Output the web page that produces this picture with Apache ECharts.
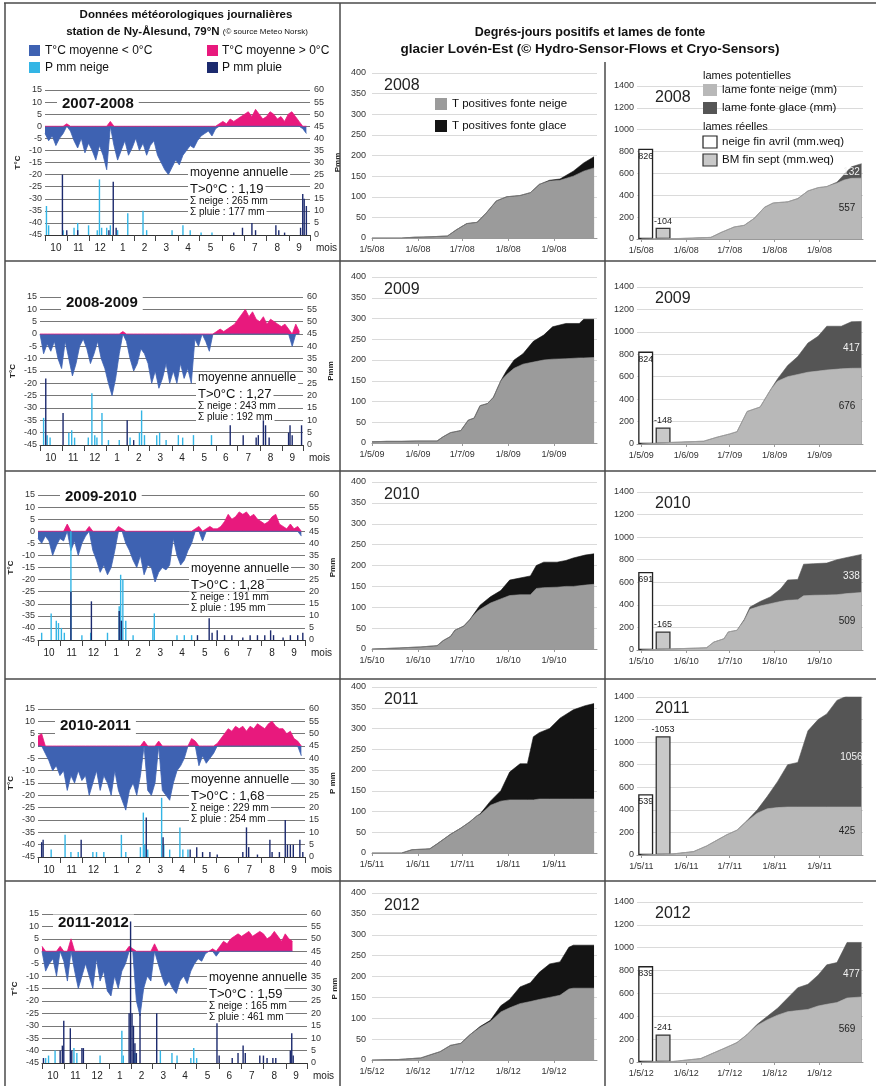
<!DOCTYPE html>
<html><head><meta charset="utf-8">
<script src="https://cdn.jsdelivr.net/npm/echarts@6/dist/echarts.min.js"></script>
<style>html,body{margin:0;padding:0;background:#fff}#c{width:876px;height:1086px}</style>
</head><body><div id="c"></div>
<script>
// ---------------- DATA ----------------
const seasons = ['2007-2008','2008-2009','2009-2010','2010-2011','2011-2012'];
const meltYears = ['2008','2009','2010','2011','2012'];
const moisLabels = ['10','11','12','1','2','3','4','5','6','7','8','9'];
const monthStarts = [0,31,61,92,123,152,183,213,244,274,305,336,365];
const monthMids = [15,46,76,107,137,167,197,228,258,289,320,350];
const tMoyPos = ['1,19','1,27','1,28','1,68','1,59'];
const sumNeige = [265,243,191,229,165];
const sumPluie = [177,192,195,254,461];
const pAxisNames = ['Pmm','Pmm','Pmm','P mm','P mm'];

// daily mean temperature sampled every 5 days from 1 Oct (day 0)
const tempDays = [0,5,10,15,20,25,30,35,40,45,50,55,60,65,70,75,80,85,90,95,100,105,110,115,120,125,130,135,140,145,150,155,160,165,170,175,180,185,190,195,200,205,210,215,220,225,230,235,240,245,250,255,260,265,270,275,280,285,290,295,300,305,310,315,320,325,330,335,340,345,350,355,360];
const t0708 = [-3,-6,-4,-8,-5,-3,1, -2,-6,-9,-5,-11,-7, -10,-14,-8,-12,-18,2, -8,-14,-10,-6,-12,-9, -5,-10,-7,-12,-8,-6, -12,-15,-18,-20,-17,-14, -16,-12,-10,-8,-9,-6, -4,-3,-2,-4,-1,1, 2,1,3,2,3,4, 5,6,4,7,5,3, 4,6,5,3,4,2, 5,6,4,2,-1,-3];
const t0809 = [0,-8,-4,-7,-3,-10,-14, -3,-10,-17,-12,-5,-2, -6,-12,-8,-3,-10,-14, -20,-25,-18,-8,1,-3, -10,-15,-12,-6,-8,-12, -20,-15,-22,-18,-12,-20, -15,-20,-12,-18,-14,-20, -2,-5,0,-3,-7,0, 1,2,1,2,3,4, 6,8,10,7,9,6, 5,7,4,6,5,4, 3,4,2,-5,4,1];
const t0910 = [-3,-5,-2,-4,-10,-6,-3, -4,3,-8,-4,-10,-5, -2,2,-8,-12,-17,-14, -18,-15,-8,2,1,-5, -8,-12,-15,-10,-18,-14, -15,-21,-17,-15,-16,-14, -3,-10,-14,-12,-8,-5, 1,2,-4,1,2,1, 1,2,4,7,5,6, 8,7,8,6,7,5, 4,3,4,6,7,3, 2,1,3,1,2,-2];
const t1011 = [4,5,-3,-6,-10,-8,-12, -10,-18,-12,-15,-10,-14, -12,-20,-15,-10,-18,-12, -15,-20,-10,-18,-22,-26, -18,-15,-20,-12,2,-18, -20,-15,2,-18,-20,-22, -15,-10,-8,-5,0,3, 2,-8,-4,-7,-5,-3, 1,3,5,7,6,8, 7,8,6,8,7,9, 8,7,9,10,8,7, 7,5,6,3,2,-4];
const t1112 = [2,-8,-5,-3,-10,2,-4, -12,5,-8,-15,-10,-5, -10,-15,-3,-12,-8,-16, -18,-10,-15,-8,-5,2, 1,-20,-26,-15,-10,-12, 3,-5,-10,-14,-12,-15, -17,-12,-10,-13,-8,-5, -3,-4,-1,0,1,-2, 2,4,3,5,6,7, 6,7,8,6,7,8, 7,5,6,8,6,4, 7,5,4,null,null,null];

// precipitation events [day from 1 Oct, mm]
const neige0708 = [[2,12],[5,4],[25,2],[40,3],[45,5],[60,4],[72,2],[75,23],[78,3],[85,3],[90,4],[100,2],[114,9],[135,10],[140,2],[175,2],[190,4],[200,2],[215,1],[230,1]];
const pluie0708 = [[24,25],[30,2],[45,2],[88,2],[94,22],[98,3],[260,1],[272,3],[285,5],[290,2],[318,4],[322,2],[330,1],[352,3],[355,17],[357,15],[360,12]];
const neige0809 = [[5,11],[10,4],[14,3],[40,5],[44,6],[48,3],[67,3],[72,21],[76,4],[79,3],[86,13],[95,2],[110,2],[125,3],[138,5],[141,14],[145,4],[162,4],[166,5],[175,2],[192,4],[198,3],[213,4],[238,4]];
const pluie0809 = [[8,27],[32,13],[121,10],[130,2],[264,8],[282,4],[300,3],[303,4],[310,10],[313,8],[318,3],[345,5],[347,8],[350,4],[363,8]];
const neige0910 = [[5,3],[18,11],[25,8],[28,7],[32,5],[36,3],[45,45],[60,2],[72,3],[95,3],[111,14],[113,27],[116,25],[120,8],[130,2],[157,5],[159,11],[190,2],[200,2],[210,2]];
const pluie0910 = [[45,20],[73,16],[111,12],[114,8],[218,2],[234,9],[238,3],[245,4],[255,2],[265,2],[280,1],[290,2],[300,2],[310,2],[318,4],[322,2],[335,1],[345,2],[355,2],[362,3]];
const neige1011 = [[18,3],[37,9],[45,2],[55,2],[75,2],[80,2],[90,2],[114,9],[120,2],[140,4],[144,18],[146,5],[150,3],[169,24],[172,5],[180,3],[194,12],[198,3],[205,3]];
const pluie1011 = [[5,6],[7,7],[59,7],[148,16],[171,8],[208,3],[217,4],[225,2],[235,2],[245,1],[280,2],[285,12],[288,4],[300,1],[317,7],[320,2],[330,2],[338,15],[341,5],[345,5],[349,5],[358,7],[362,2]];
const neige1112 = [[5,2],[9,3],[18,5],[44,6],[48,4],[80,3],[110,13],[112,3],[128,4],[163,5],[179,4],[186,3],[205,2],[209,6],[213,2]];
const pluie1112 = [[2,2],[25,5],[28,7],[30,17],[39,14],[41,5],[55,6],[57,6],[120,20],[122,57],[124,20],[126,15],[128,8],[130,4],[135,20],[158,20],[241,16],[244,3],[262,2],[270,4],[277,7],[280,4],[300,3],[305,3],[310,2],[318,2],[322,2],[342,5],[344,12],[346,3]];

// cumulative positive degree-days (day from 1 May)
const djDays2008 = [0,10,20,29,40,51,57,64,71,77,84,91,100,107,113,120,127,136,143,150];
const djNeige2008 = [0,0,0,2,3,5,20,35,38,60,90,100,103,110,130,138,140,150,162,170];
const djGlace2008 = [0,0,0,0,0,0,0,0,0,0,0,0,0,0,0,2,3,12,20,27];
const djDays2009 = [0,10,20,30,44,48,53,60,65,69,73,78,82,87,91,96,102,109,116,122,131,140,143,150];
const djNeige2009 = [3,4,4,5,5,15,25,30,55,60,90,95,110,150,165,180,190,195,200,202,203,205,205,206];
const djGlace2009 = [0,0,0,0,0,0,0,0,0,0,0,0,0,0,10,20,25,50,60,78,85,83,93,92];
const djDays2010 = [0,15,33,44,48,53,56,62,66,71,73,80,87,93,100,107,111,116,125,131,136,144,150];
const djNeige2010 = [0,2,5,8,20,30,45,55,70,90,95,110,120,128,130,130,145,147,148,150,150,153,155];
const djGlace2010 = [0,0,0,0,0,0,0,0,0,5,10,15,20,37,40,45,55,61,60,62,68,72,73];
const djDays2011 = [0,20,27,39,44,53,60,66,71,73,80,87,93,100,105,109,113,120,127,136,144,150];
const djNeige2011 = [0,0,8,10,22,45,60,75,90,92,115,125,128,128,128,128,130,130,130,130,130,130];
const djGlace2011 = [0,0,0,0,0,0,0,0,0,2,10,25,67,87,87,152,160,170,195,215,225,230];
const djDays2012 = [0,17,33,39,46,53,60,66,73,80,87,93,100,107,113,120,127,133,136,150];
const djNeige2012 = [0,1,5,12,20,35,40,60,78,92,115,125,135,140,145,150,155,170,172,172];
const djGlace2012 = [0,0,0,0,0,0,0,0,2,3,15,20,40,45,65,80,80,100,103,103];

// cumulative potential melt (mm), day from 1 May
const lmDays2008 = [0,27,48,55,64,71,78,85,91,101,108,115,122,128,135,140,145,152];
const lmNeige2008 = [0,5,15,60,110,125,190,290,330,340,370,440,470,480,510,540,555,557];
const lmGlace2008 = [0,0,0,0,0,0,0,0,0,0,0,0,0,0,10,50,105,132];
const lmDays2009 = [0,22,43,52,61,66,73,82,89,94,101,108,115,122,128,138,145,152];
const lmNeige2009 = [0,15,25,60,90,110,290,330,480,560,600,620,640,650,660,670,675,676];
const lmGlace2009 = [0,0,0,0,0,0,0,0,0,20,100,160,260,310,390,380,415,417];
const lmDays2010 = [0,22,45,50,57,60,66,71,75,82,89,96,101,108,112,119,128,135,142,152];
const lmNeige2010 = [0,10,20,70,100,160,175,260,360,390,410,430,440,445,480,485,487,490,500,509];
const lmGlace2010 = [0,0,0,0,0,0,0,10,20,40,60,110,180,180,280,280,283,310,320,338];
const lmDays2011 = [0,22,36,45,52,59,66,73,80,87,94,101,108,115,122,128,135,142,152];
const lmNeige2011 = [0,10,30,80,130,180,220,300,370,410,420,425,425,425,425,425,425,425,425];
const lmGlace2011 = [0,0,0,0,0,0,0,5,30,110,230,375,395,675,775,825,945,985,1056];
const lmDays2012 = [0,22,41,50,59,66,73,80,87,94,101,108,115,122,128,135,142,152];
const lmNeige2012 = [0,5,30,80,130,170,240,320,370,410,440,450,460,490,505,520,560,569];
const lmGlace2012 = [0,0,0,0,0,0,0,10,30,60,120,200,220,270,345,350,486,477];

// measured
const neigeFinAvril = [826,824,691,539,839];
const bmFinSept = [-104,-148,-165,-1053,-241];
const dateTicks = [0,31,61,92,123];

// ---------------- LAYOUT / STYLE ----------------
const temps = [t0708,t0809,t0910,t1011,t1112];
const pNeige = [neige0708,neige0809,neige0910,neige1011,neige1112];
const pPluie = [pluie0708,pluie0809,pluie0910,pluie1011,pluie1112];
const djD = [djDays2008,djDays2009,djDays2010,djDays2011,djDays2012];
const djN = [djNeige2008,djNeige2009,djNeige2010,djNeige2011,djNeige2012];
const djG = [djGlace2008,djGlace2009,djGlace2010,djGlace2011,djGlace2012];
const lmD = [lmDays2008,lmDays2009,lmDays2010,lmDays2011,lmDays2012];
const lmN = [lmNeige2008,lmNeige2009,lmNeige2010,lmNeige2011,lmNeige2012];
const lmG = [lmGlace2008,lmGlace2009,lmGlace2010,lmGlace2011,lmGlace2012];

const FONT = '"Liberation Sans", Arial, sans-serif';
const BLUE='#3e62b2', PINK='#e8197d', CYAN='#33b5e5', NAVY='#1c2a6e';
const MID_N='#9b9b9b', MID_G='#141414', R_N='#b8b8b8', R_G='#555555';

const leftBox = [
 {l:45,t:90,r:310,b:235},
 {l:40,t:297,r:303,b:445},
 {l:38,t:495,r:305,b:640},
 {l:38,t:709,r:305,b:857},
 {l:42,t:914,r:307,b:1063}
];
const midBox = [{t:73,b:238},{t:277,b:443},{t:482,b:649},{t:687,b:853},{t:893,b:1060}];
const rightBox = [{t:86,b:239},{t:287,b:444},{t:492,b:650},{t:697,b:855},{t:902,b:1062}];
const yearLabelPos = [[57,104],[61,303],[60,497],[55,726],[53,923]];
const annotPos = [[188,173],[196,378],[189,569],[189,780],[207,978]];

const grid=[], xAxis=[], yAxis=[], series=[], graphic=[];

function T(x,y,text,o){
  o=o||{};
  return {type:'text', x, y, z:o.z!=null?o.z:1, style:Object.assign({text, fill:o.fill||'#111',
    fontFamily:FONT, fontSize:o.size||12, fontWeight:o.bold?'bold':'normal',
    align:o.align||'left', verticalAlign:'middle'}, o.bg?{backgroundColor:'#fff', padding:o.pad||[1,3]}:{})};
}
function R(x,y,w,h,fill,stroke){
  return {type:'rect', z:5, shape:{x,y,width:w,height:h}, style:{fill, stroke:stroke||null, lineWidth:stroke?1.2:0}};
}
function Lh(x1,y1,x2,y2){
  return {type:'line', z:10, shape:{x1,y1,x2,y2}, style:{stroke:'#4a4a4a', lineWidth:1.5}};
}
const plain = v => String(v);

for (let r=0;r<5;r++){
  const L=leftBox[r], M=midBox[r], Rt=rightBox[r];
  const gL=3*r, gM=3*r+1, gR=3*r+2;
  const yy = meltYears[r].slice(2);
  grid.push({left:L.l, top:L.t, width:L.r-L.l, height:L.b-L.t});
  grid.push({left:372, top:M.t, width:225, height:M.b-M.t});
  grid.push({left:637, top:Rt.t, width:226, height:Rt.b-Rt.t});

  // x axes
  xAxis.push({gridIndex:gL, type:'value', min:0, max:365,
    axisLine:{onZero:false, lineStyle:{color:'#333', width:1}},
    axisTick:{customValues:monthStarts, length:6, lineStyle:{color:'#444'}},
    axisLabel:{customValues:monthMids, formatter:v=>moisLabels[monthMids.indexOf(v)], fontSize:10, color:'#222', margin:8, fontFamily:FONT},
    splitLine:{show:false}});
  xAxis.push({gridIndex:gM, type:'value', min:0, max:152,
    axisLine:{onZero:false, lineStyle:{color:'#999'}},
    axisTick:{customValues:dateTicks, length:3, lineStyle:{color:'#999'}},
    axisLabel:{customValues:dateTicks, formatter:v=>'1/'+(5+dateTicks.indexOf(v))+'/'+yy, fontSize:9, color:'#333', margin:7, fontFamily:FONT},
    splitLine:{show:false}});
  xAxis.push({gridIndex:gR, type:'value', min:-3, max:153,
    axisLine:{onZero:false, lineStyle:{color:'#999'}},
    axisTick:{customValues:dateTicks, length:3, lineStyle:{color:'#999'}},
    axisLabel:{customValues:dateTicks, formatter:v=>'1/'+(5+dateTicks.indexOf(v))+'/'+yy, fontSize:9, color:'#333', margin:7, fontFamily:FONT},
    splitLine:{show:false}});

  // y axes
  yAxis.push({gridIndex:gL, type:'value', min:-45, max:15, interval:5, position:'left',
    axisLine:{show:false}, axisTick:{show:false},
    axisLabel:{fontSize:9, color:'#333', margin:3, fontFamily:FONT, formatter:plain},
    splitLine:{lineStyle:{color:'#555', width:0.8}},
    name:'T°C', nameLocation:'middle', nameGap:23, nameRotate:90,
    nameTextStyle:{fontSize:8, fontWeight:'bold', color:'#222', fontFamily:FONT}});
  yAxis.push({gridIndex:gL, type:'value', min:0, max:60, interval:5, position:'right',
    axisLine:{show:false}, axisTick:{show:false}, splitLine:{show:false},
    axisLabel:{fontSize:9, color:'#333', margin:4, fontFamily:FONT, formatter:plain},
    name:pAxisNames[r], nameLocation:'middle', nameGap:24, nameRotate:90,
    nameTextStyle:{fontSize:8, fontWeight:'bold', color:'#222', fontFamily:FONT}});
  yAxis.push({gridIndex:gM, type:'value', min:0, max:400, interval:50,
    axisLine:{show:false}, axisTick:{show:false},
    axisLabel:{fontSize:9, color:'#333', margin:6, fontFamily:FONT, formatter:plain},
    splitLine:{lineStyle:{color:'#dadada'}}});
  yAxis.push({gridIndex:gR, type:'value', min:0, max:1400, interval:200,
    axisLine:{show:false}, axisTick:{show:false},
    axisLabel:{fontSize:9, color:'#333', margin:3, fontFamily:FONT, formatter:plain},
    splitLine:{lineStyle:{color:'#dadada'}}});

  // temperature, split at 0 °C
  series.push({type:'line', name:'T°C moyenne < 0°C', xAxisIndex:gL, yAxisIndex:4*r,
    data:tempDays.map((d,i)=>[d, temps[r][i]==null?null:Math.min(temps[r][i],0)]), symbol:'none', silent:true,
    lineStyle:{width:0.8, color:BLUE}, areaStyle:{origin:0, color:BLUE, opacity:1}, z:3});
  series.push({type:'line', name:'T°C moyenne > 0°C', xAxisIndex:gL, yAxisIndex:4*r,
    data:tempDays.map((d,i)=>[d, temps[r][i]==null?null:Math.max(temps[r][i],0)]), symbol:'none', silent:true,
    lineStyle:{width:0.8, color:PINK}, areaStyle:{origin:0, color:PINK, opacity:1}, z:3});
  // precipitation
  series.push({type:'bar', name:'P mm neige', xAxisIndex:gL, yAxisIndex:4*r+1, data:pNeige[r],
    barWidth:1.4, barGap:'-100%', itemStyle:{color:CYAN}, silent:true, z:4});
  series.push({type:'bar', name:'P mm pluie', xAxisIndex:gL, yAxisIndex:4*r+1, data:pPluie[r],
    barWidth:1.4, barGap:'-100%', itemStyle:{color:NAVY}, silent:true, z:5});

  // degree-days (glace stacked on neige)
  series.push({type:'line', name:'T positives fonte glace', xAxisIndex:gM, yAxisIndex:4*r+2,
    data:djD[r].map((d,i)=>[d, djN[r][i]+djG[r][i]]), symbol:'none', silent:true,
    lineStyle:{width:0.6, color:MID_G}, areaStyle:{color:MID_G, opacity:1}});
  series.push({type:'line', name:'T positives fonte neige', xAxisIndex:gM, yAxisIndex:4*r+2,
    data:djD[r].map((d,i)=>[d, djN[r][i]]), symbol:'none', silent:true,
    lineStyle:{width:0.6, color:MID_N}, areaStyle:{color:MID_N, opacity:1}});

  // potential melt
  const nLast = lmN[r][lmN[r].length-1], gLast = lmG[r][lmG[r].length-1];
  series.push({type:'line', name:'lame fonte glace (mm)', xAxisIndex:gR, yAxisIndex:4*r+3,
    data:lmD[r].map((d,i)=>[d, lmN[r][i]+lmG[r][i]]), symbol:'none', silent:true,
    lineStyle:{width:0.6, color:R_G}, areaStyle:{color:R_G, opacity:1},
    markPoint:{symbol:'rect', symbolSize:1, itemStyle:{color:'rgba(0,0,0,0)'}, silent:true,
      label:{show:true, position:'inside', color:'#f2f2f2', fontSize:10, fontFamily:FONT, formatter:p=>p.value},
      data:[{coord:[145, nLast+gLast*0.42], value:gLast}]}});
  series.push({type:'line', name:'lame fonte neige (mm)', xAxisIndex:gR, yAxisIndex:4*r+3,
    data:lmD[r].map((d,i)=>[d, lmN[r][i]]), symbol:'none', silent:true,
    lineStyle:{width:0.6, color:R_N}, areaStyle:{color:R_N, opacity:1},
    markPoint:{symbol:'rect', symbolSize:1, itemStyle:{color:'rgba(0,0,0,0)'}, silent:true,
      label:{show:true, position:'inside', color:'#222', fontSize:10, fontFamily:FONT, formatter:p=>p.value},
      data:[{coord:[142, nLast*0.5], value:nLast}]}});
  series.push({type:'bar', name:'neige fin avril (mm.weq)', xAxisIndex:gR, yAxisIndex:4*r+3,
    data:[[3, neigeFinAvril[r]]], barWidth:15, barGap:'-100%', silent:true,
    itemStyle:{color:'#ffffff', borderColor:'#222', borderWidth:1.3},
    label:{show:true, position:'insideTop', distance:3, fontSize:9, color:'#222', fontFamily:FONT,
      formatter:p=>p.value[1]}});
  series.push({type:'bar', name:'BM fin sept (mm.weq)', xAxisIndex:gR, yAxisIndex:4*r+3,
    data:[[15, Math.abs(bmFinSept[r])]], barWidth:15, barGap:'-100%', silent:true,
    itemStyle:{color:'#c9c9c9', borderColor:'#333', borderWidth:1.3},
    label:{show:true, position:'top', distance:2, fontSize:9, color:'#222', fontFamily:FONT,
      formatter:()=>String(bmFinSept[r])}});

  // texts in panels
  graphic.push(T(yearLabelPos[r][0], yearLabelPos[r][1], seasons[r], {size:15, bold:true, bg:true, pad:[1,5]}));
  const a = annotPos[r];
  graphic.push(T(a[0], a[1], 'moyenne annuelle', {size:12, bg:true, pad:[0,2]}));
  graphic.push(T(a[0], a[1]+16, 'T>0°C : '+tMoyPos[r], {size:13, bg:true, pad:[0,2]}));
  graphic.push(T(a[0], a[1]+28, 'Σ neige : '+sumNeige[r]+' mm', {size:10, bg:true, pad:[0,2]}));
  graphic.push(T(a[0], a[1]+39.5, 'Σ pluie : '+sumPluie[r]+' mm', {size:10, bg:true, pad:[0,2]}));
  graphic.push(T(L.r+6, L.b+13, 'mois', {size:10, fill:'#222'}));
  graphic.push(T(384, M.t+13, meltYears[r], {size:16, fill:'#222'}));
  graphic.push(T(655, Rt.t+12, meltYears[r], {size:16, fill:'#222'}));
}

// frame
[ Lh(4,3,876,3), Lh(5,3,5,1086), Lh(340,3,340,1086), Lh(605,62,605,1086),
  Lh(5,261,876,261), Lh(5,471,876,471), Lh(5,679,876,679), Lh(5,881,876,881)
].forEach(g=>graphic.push(g));

// headers
graphic.push(T(186,15,'Données météorologiques journalières',{size:11.5,bold:true,align:'center',z:6}));
graphic.push({type:'text', x:187, y:32, z:6, style:{text:'{b|station de Ny-Ålesund, 79°N }{s|(© source Meteo Norsk)}',
  align:'center', verticalAlign:'middle', fill:'#111', fontFamily:FONT,
  rich:{b:{fontSize:11.5, fontWeight:'bold', fontFamily:FONT}, s:{fontSize:8, fontFamily:FONT}}}});
graphic.push(R(29,45,11,11,BLUE)); graphic.push(T(45,50.5,'T°C moyenne < 0°C',{size:12,z:6}));
graphic.push(R(207,45,11,11,PINK)); graphic.push(T(222,50.5,'T°C moyenne > 0°C',{size:12,z:6}));
graphic.push(R(29,62,11,11,CYAN)); graphic.push(T(45,67.5,'P mm neige',{size:12,z:6}));
graphic.push(R(207,62,11,11,NAVY)); graphic.push(T(222,67.5,'P mm pluie',{size:12,z:6}));

graphic.push(T(590,33,'Degrés-jours positifs et lames de fonte',{size:12.5,bold:true,align:'center',z:6}));
graphic.push(T(590,49,'glacier Lovén-Est (© Hydro-Sensor-Flows et Cryo-Sensors)',{size:13.5,bold:true,align:'center',z:6}));

graphic.push(R(435,98,12,12,MID_N)); graphic.push(T(452,104,'T positives fonte neige',{size:11.5,z:6}));
graphic.push(R(435,120,12,12,MID_G)); graphic.push(T(452,126,'T positives fonte glace',{size:11.5,z:6}));

graphic.push(T(703,76,'lames potentielles',{size:11,z:6}));
graphic.push(R(703,84,14,12,R_N)); graphic.push(T(722,90,'lame fonte neige (mm)',{size:11.5,z:6}));
graphic.push(R(703,102,14,12,R_G)); graphic.push(T(722,108,'lame fonte glace (mm)',{size:11.5,z:6}));
graphic.push(T(703,127,'lames réelles',{size:11,z:6}));
graphic.push(R(703,136,14,12,'#fff','#222')); graphic.push(T(722,142,'neige fin avril (mm.weq)',{size:11.5,z:6}));
graphic.push(R(703,154,14,12,'#c9c9c9','#333')); graphic.push(T(722,160,'BM fin sept (mm.weq)',{size:11.5,z:6}));

const chart = echarts.init(document.getElementById('c'), null, {renderer:'canvas', width:876, height:1086});
chart.setOption({
  backgroundColor:'#ffffff',
  animation:false,
  textStyle:{fontFamily:FONT},
  grid, xAxis, yAxis, series, graphic
});
</script></body></html>
